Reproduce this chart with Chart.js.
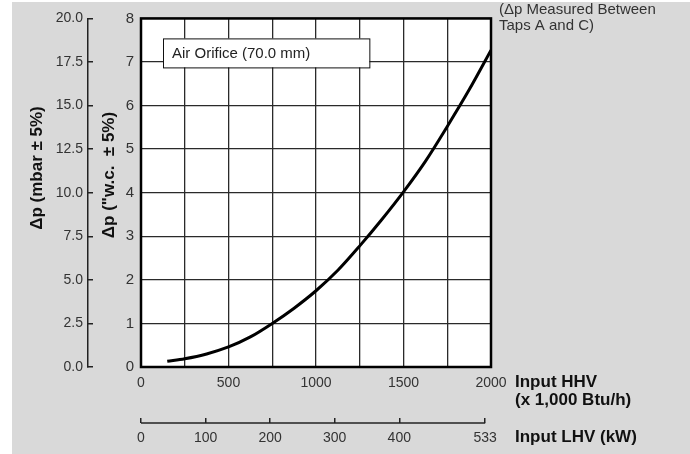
<!DOCTYPE html>
<html>
<head>
<meta charset="utf-8">
<script src="https://cdn.jsdelivr.net/npm/chart.js@4/dist/chart.umd.min.js"></script>
<style>
  html, body { margin: 0; padding: 0; background: #fff; }
  #wrap { width: 690px; height: 454px; }
</style>
</head>
<body>
<div id="wrap"><canvas id="chart"></canvas></div>
<script>
// 📌 values
const inputHHV = [150, 250, 375, 500, 625, 750, 875, 1000, 1125, 1250, 1375, 1500, 1625, 1750, 1875, 2000];
const deltaPwc = [0.13, 0.19, 0.30, 0.46, 0.69, 1.00, 1.35, 1.75, 2.22, 2.78, 3.38, 4.02, 4.72, 5.52, 6.36, 7.27];
const lhvTicks = [0, 100, 200, 300, 400, 533];
const seriesName = 'Air Orifice (70.0 mm)';
const noteLines = ['(Δp Measured Between', 'Taps A and C)'];

const FONT = '"Liberation Sans", Arial, sans-serif';
Chart.defaults.font.family = FONT;
Chart.defaults.color = '#333';

const decor = {
    id: 'decor',
    beforeDraw(chart) {
        const ctx = chart.ctx, a = chart.chartArea;
        ctx.save();
        ctx.fillStyle = '#fff'; ctx.fillRect(0, 0, chart.width, chart.height);
        ctx.fillStyle = '#d9d9d9'; ctx.fillRect(12, 2, chart.width - 12, chart.height - 2);
        ctx.fillStyle = '#fff'; ctx.fillRect(a.left, a.top, a.width, a.height);
        ctx.restore();
    },
    afterDraw(chart) {
        const ctx = chart.ctx, a = chart.chartArea;
        const xl = chart.scales.xl;
        ctx.save();
        // frame
        ctx.strokeStyle = '#000'; ctx.lineWidth = 2.5;
        ctx.strokeRect(a.left, a.top, a.width, a.height);

        // LHV axis line (ends at 533)
        ctx.lineWidth = 1.5; ctx.strokeStyle = '#222';
        ctx.beginPath();
        ctx.moveTo(xl.getPixelForValue(0), xl.top);
        ctx.lineTo(xl.getPixelForValue(lhvTicks[lhvTicks.length - 1]), xl.top);
        ctx.stroke();

        // series label box
        ctx.font = '15px ' + FONT;
        const tw = ctx.measureText(seriesName).width;
        const bx = a.left + 22, by = a.top + 20;
        ctx.fillStyle = '#fff'; ctx.fillRect(bx, by, tw + 68, 29);
        ctx.lineWidth = 1; ctx.strokeStyle = '#111';
        ctx.strokeRect(bx + 0.5, by + 0.5, tw + 68, 29);
        ctx.fillStyle = '#222'; ctx.textBaseline = 'middle'; ctx.textAlign = 'left';
        ctx.fillText(seriesName, bx + 9, by + 15);

        // note at top right
        ctx.fillStyle = '#333';
        noteLines.forEach((t, i) => ctx.fillText(t, a.right + 8, 10 + i * 16));

        // axis names on the right
        ctx.font = 'bold 17px ' + FONT; ctx.fillStyle = '#111';
        ctx.fillText('Input HHV', a.right + 24, 382);
        ctx.fillText('(x 1,000 Btu/h)', a.right + 24, 400);
        ctx.fillText('Input LHV (kW)', a.right + 24, xl.top + 14);

        // y titles
        const vt = (t, x, y) => { ctx.save(); ctx.translate(x, y); ctx.rotate(-Math.PI / 2); ctx.textAlign = 'center'; ctx.fillText(t, 0, 0); ctx.restore(); };
        vt('Δp (mbar ± 5%)', 37, 168);
        vt('Δp ("w.c.  ± 5%)', 109, 175);
        ctx.restore();
    }
};

new Chart(document.getElementById('chart'), {
    type: 'line',
    data: {
        datasets: [{
            label: seriesName,
            data: inputHHV.map((x, i) => ({ x: x, y: deltaPwc[i] })),
            borderColor: '#000', borderWidth: 3, pointRadius: 0,
            cubicInterpolationMode: 'monotone', fill: false
        }]
    },
    options: {
        responsive: true, maintainAspectRatio: false, animation: false,
        layout: { padding: { left: 0, top: 14, right: 199, bottom: 6 } },
        plugins: { legend: { display: false }, tooltip: { enabled: false } },
        scales: {
            x: {
                type: 'linear', position: 'bottom', weight: 0, min: 0, max: 2000,
                ticks: { stepSize: 250, autoSkip: false, maxRotation: 0, padding: 8, font: { size: 14 }, callback: v => v % 500 === 0 ? v : '' },
                grid: { color: '#2a2a2a', lineWidth: 1.3, drawTicks: false },
                border: { display: false },
                afterFit: s => { s.height = 56; }
            },
            xl: {
                type: 'linear', position: 'bottom', weight: 1, min: 0, max: 542,
                afterBuildTicks: s => { s.ticks = lhvTicks.map(v => ({ value: v })); },
                ticks: { autoSkip: false, maxRotation: 0, padding: 12, font: { size: 14 } },
                grid: { drawOnChartArea: false, tickLength: -5, color: '#222', lineWidth: 1.5 },
                border: { display: false },
                afterFit: s => { s.height = 25; }
            },
            y: {
                position: 'left', weight: 0, min: 0, max: 8,
                ticks: { stepSize: 1, padding: 7, font: { size: 15 } },
                grid: { color: '#2a2a2a', lineWidth: 1.3, drawTicks: false },
                border: { display: false },
                afterFit: s => { s.width = 53; }
            },
            ym: {
                position: 'left', weight: 1, min: 0, max: 20,
                ticks: { stepSize: 2.5, padding: 10, font: { size: 14 }, callback: v => v.toFixed(1) },
                grid: { drawOnChartArea: false, tickLength: -5, color: '#222', lineWidth: 1.5 },
                border: { display: true, color: '#222', width: 1.5 },
                afterFit: s => { s.width = 88; }
            }
        }
    },
    plugins: [decor]
});
</script>
</body>
</html>
